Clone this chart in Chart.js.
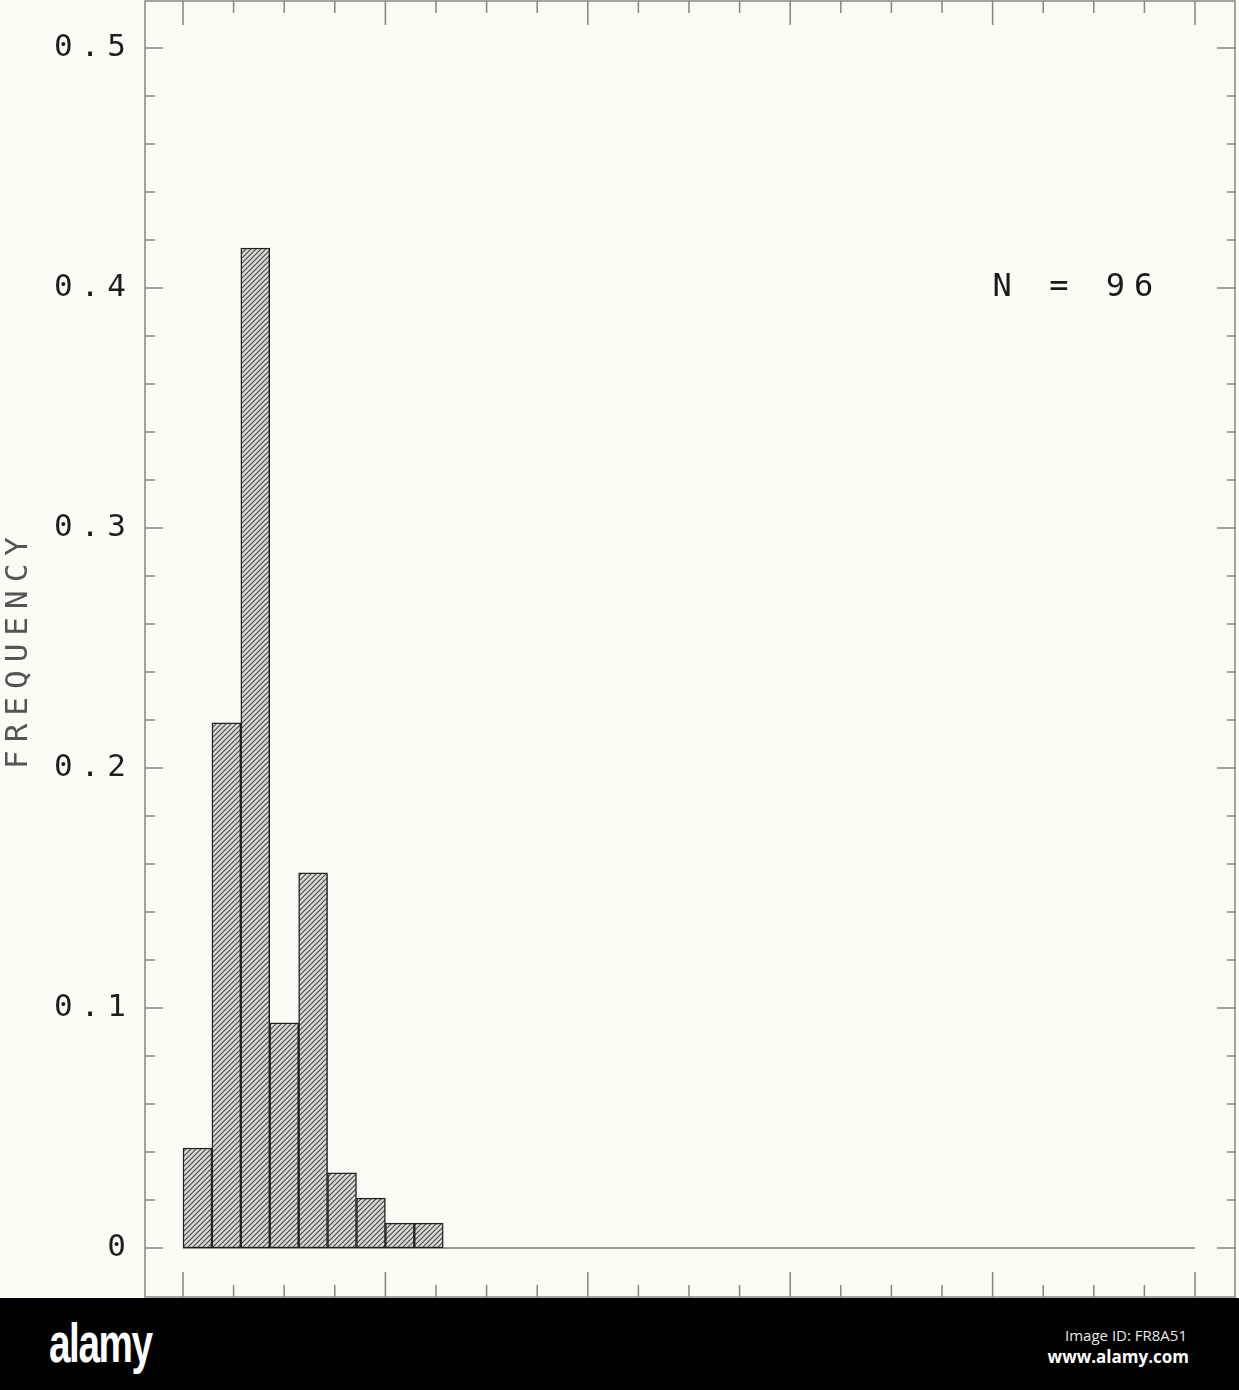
<!DOCTYPE html>
<html>
<head>
<meta charset="utf-8">
<script src="https://cdn.jsdelivr.net/npm/chart.js@4.4.1/dist/chart.umd.min.js"></script>
<style>
  html, body { margin: 0; padding: 0; background: #000; }
  body { width: 1239px; height: 1390px; position: relative; overflow: hidden; }
  #wrap { position: absolute; left: 0; top: 0; width: 1239px; height: 1298px; background: #fcfcf4; }
  #band { position: absolute; left: 0; top: 1298px; width: 1239px; height: 92px; background: #000; }
  .logo { position: absolute; left: 49px; top: 12px; color: #fff; font-family: 'Liberation Sans Narrow', 'Liberation Sans', sans-serif;
          font-weight: bold; font-size: 56px; letter-spacing: -2px; transform: scaleX(0.69); transform-origin: left top; }
  .imgid { position: absolute; right: 52px; top: 30px; color: #e8e8e8; font-family: 'Open Sans', 'Noto Sans', sans-serif; font-size: 15px; line-height: 1; }
  .site { position: absolute; right: 50px; top: 50px; color: #fff; font-family: 'Open Sans', 'Noto Sans', sans-serif; font-weight: bold; font-size: 17px; line-height: 1; }
</style>
</head>
<body>
<div id="wrap"><canvas id="histChart" width="1239" height="1298"></canvas></div>
<div id="band">
  <div class="logo">alamy</div>
  <div class="imgid">Image ID: FR8A51</div>
  <div class="site">www.alamy.com</div>
</div>
<script>
// Histogram bins (centres) and relative frequencies
const binCenters = [5, 15, 25, 35, 45, 55, 65, 75, 85];
const frequencies = [0.0417, 0.2188, 0.4167, 0.0938, 0.1563, 0.0313, 0.0208, 0.0104, 0.0104];

// Axis ticks
const yMajorTicks = [0, 0.1, 0.2, 0.3, 0.4, 0.5];
const yMinorStep = 0.02;
const xTicks = [0, 17.5, 35, 52.5, 70, 87.5, 105, 122.5, 140, 157.5, 175,
                192.5, 210, 227.5, 245, 262.5, 280, 297.5, 315, 332.5, 350];
const xMajorEvery = 4;
const xAxisEnd = 350;

const sampleLabel = 'N = 96';

const plotFont = 'DejaVu Sans Mono';

// diagonal hatch fill used for the bars
const makeHatch = () => {
    const c = document.createElement('canvas');
    c.width = 5; c.height = 5;
    const g = c.getContext('2d');
    g.fillStyle = '#dadad4';
    g.fillRect(0, 0, 5, 5);
    g.strokeStyle = '#4a4a4a';
    g.lineWidth = 1.2;
    g.beginPath();
    g.moveTo(-1, 6); g.lineTo(6, -1);
    g.moveTo(-3.5, 3.5); g.lineTo(3.5, -3.5);
    g.moveTo(1.5, 8.5); g.lineTo(8.5, 1.5);
    g.stroke();
    return g.createPattern(c, 'repeat');
};

// frame, inward ticks, zero line and the N label
const framePlugin = {
    id: 'frame',
    beforeDraw(chart) {
        chart.ctx.letterSpacing = '8px';
    },
    beforeDatasetsDraw(chart) {
        const { ctx, scales: { x, y } } = chart;
        ctx.save();
        ctx.strokeStyle = '#7a7a7a';
        ctx.lineWidth = 1.5;
        ctx.beginPath();
        ctx.moveTo(x.getPixelForValue(0), y.getPixelForValue(0));
        ctx.lineTo(x.getPixelForValue(xAxisEnd), y.getPixelForValue(0));
        ctx.stroke();
        ctx.restore();
    },
    afterDraw(chart) {
        const { ctx, chartArea: a, scales: { x, y } } = chart;
        ctx.save();
        ctx.strokeStyle = '#858585';
        ctx.lineWidth = 1.5;
        ctx.strokeRect(a.left, a.top, a.right - a.left, a.bottom - a.top);

        ctx.beginPath();
        const last = yMajorTicks[yMajorTicks.length - 1];
        for (let i = 0; i * yMinorStep <= last + 1e-9; i++) {
            const py = y.getPixelForValue(i * yMinorStep);
            const major = i % 5 === 0;
            ctx.moveTo(a.left, py); ctx.lineTo(a.left + (major ? 18 : 10), py);
            ctx.moveTo(a.right, py); ctx.lineTo(a.right - (major ? 18 : 8), py);
        }
        xTicks.forEach((v, i) => {
            const px = x.getPixelForValue(v);
            const major = i % xMajorEvery === 0;
            ctx.moveTo(px, a.top); ctx.lineTo(px, a.top + (major ? 24 : 12));
            ctx.moveTo(px, a.bottom); ctx.lineTo(px, a.bottom - (major ? 25 : 12));
        });
        ctx.stroke();

        ctx.fillStyle = '#1a1a1a';
        ctx.letterSpacing = '9px';
        ctx.font = `32px ${plotFont}`;
        ctx.textAlign = 'left';
        ctx.textBaseline = 'middle';
        ctx.fillText(sampleLabel, x.getPixelForValue(280), y.getPixelForValue(0.4));
        ctx.restore();
        ctx.letterSpacing = '0px';
    }
};

const ctx = document.getElementById('histChart').getContext('2d');

new Chart(ctx, {
    type: 'bar',
    data: {
        datasets: [{
            data: binCenters.map((c, i) => ({ x: c, y: frequencies[i] })),
            backgroundColor: makeHatch(),
            borderColor: '#222',
            borderWidth: 1.5,
            borderSkipped: false,
            barPercentage: 1,
            categoryPercentage: 1
        }]
    },
    options: {
        responsive: false,
        animation: false,
        layout: { padding: { left: 0, right: 4, top: 1, bottom: 1 } },
        plugins: { legend: { display: false }, tooltip: { enabled: false } },
        scales: {
            x: {
                type: 'linear',
                display: false,
                offset: false,
                min: -13.14,
                max: 363.83,
                afterBuildTicks: s => { s.ticks = xTicks.map(v => ({ value: v })); }
            },
            y: {
                min: -0.0204,
                max: 0.5196,
                afterBuildTicks: s => { s.ticks = yMajorTicks.map(v => ({ value: v })); },
                afterFit: s => { s.width = 145; s.paddingTop = 0; s.paddingBottom = 0; },
                grid: { display: false },
                border: { display: false },
                ticks: {
                    autoSkip: false,
                    font: { family: plotFont, size: 31 },
                    color: '#1e1e1e',
                    padding: 3,
                    callback: v => (v === 0 ? '0' : v.toFixed(1))
                },
                title: {
                    display: true,
                    text: 'FREQUENCY',
                    font: { family: plotFont, size: 31 },
                    color: '#555',
                    padding: 0
                }
            }
        }
    },
    plugins: [framePlugin]
});
</script>
</body>
</html>
